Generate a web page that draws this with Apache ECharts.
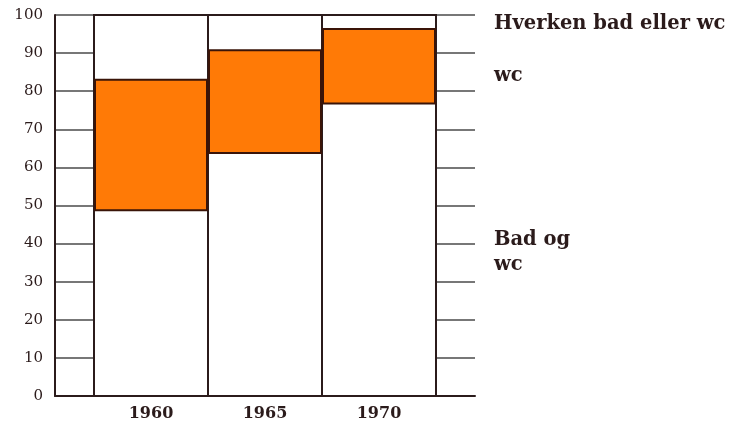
<!DOCTYPE html>
<html>
<head>
<meta charset="utf-8">
<script src="https://cdn.jsdelivr.net/npm/echarts@6/dist/echarts.min.js"></script>
<style>
  html, body { margin: 0; padding: 0; background: #fff; }
  #main { width: 730px; height: 426px; }
</style>
</head>
<body>
<div id="main"></div>
<script>
    // data (percent)
    var years = ['1960', '1965', '1970'];
    var badOgWc = [48.5, 63.5, 76.5];
    var wc = [34.8, 27.5, 20.1];
    var hverken = [16.7, 9.0, 3.4];
    var yTicks = [0, 10, 20, 30, 40, 50, 60, 70, 80, 90, 100];

    var ink = '#2b1b1b';
    var serif = '"DejaVu Serif", "Liberation Serif", serif';

    // label only on the last bar, placed to the right as a legend
    function withLabel(values, text, dy) {
        return values.map(function (v, i) {
            if (i !== values.length - 1) return v;
            return {
                value: v,
                label: {
                    show: true, position: 'right', distance: 58, offset: [0, dy],
                    formatter: text, color: ink, fontFamily: serif,
                    fontWeight: 'bold', fontSize: 19.5, lineHeight: 25
                }
            };
        });
    }

    var myChart = echarts.init(document.getElementById('main'));
    myChart.setOption({
        animation: false,
        grid: [
            { left: 55, right: 255, top: 15, bottom: 30 },   // gridlines + y axis
            { left: 94, right: 294, top: 15, bottom: 30 }    // bars
        ],
        xAxis: [
            {
                gridIndex: 0, type: 'value', min: 0, max: 1,
                axisLine: { show: true, onZero: false, lineStyle: { color: ink, width: 2 } },
                axisTick: { show: false }, axisLabel: { show: false }, splitLine: { show: false }
            },
            {
                gridIndex: 1, type: 'category', data: years,
                axisLine: { show: false }, axisTick: { show: false },
                axisLabel: { margin: 10, color: ink, fontFamily: serif, fontWeight: 'bold', fontSize: 16 }
            }
        ],
        yAxis: [
            {
                gridIndex: 0, type: 'value', min: 0, max: 100, interval: 10,
                axisLine: { show: true, lineStyle: { color: ink, width: 2 } },
                axisTick: { show: false },
                axisLabel: {
                    margin: 12, color: ink, fontFamily: serif, fontSize: 15,
                    formatter: function (v) { return yTicks.indexOf(v) >= 0 ? String(v) : ''; }
                },
                splitLine: { show: true, lineStyle: { color: '#4a4a4a', width: 1.5 } }
            },
            { gridIndex: 1, type: 'value', min: 0, max: 100, show: false }
        ],
        series: [
            {
                name: 'Bad og wc', type: 'bar', stack: 'a', xAxisIndex: 1, yAxisIndex: 1,
                barCategoryGap: 0,
                // white full-height background gives the outline of each column
                showBackground: true,
                backgroundStyle: { color: '#ffffff', borderColor: ink, borderWidth: 2 },
                itemStyle: { color: 'rgba(255,255,255,0)' },
                data: withLabel(badOgWc, 'Bad og\nwc', 2)
            },
            {
                name: 'wc', type: 'bar', stack: 'a', xAxisIndex: 1, yAxisIndex: 1,
                barCategoryGap: 0,
                itemStyle: { color: '#ff7a06', borderColor: '#3a1408', borderWidth: 2 },
                data: withLabel(wc, 'wc', 10)
            },
            {
                name: 'Hverken bad eller wc', type: 'bar', stack: 'a', xAxisIndex: 1, yAxisIndex: 1,
                barCategoryGap: 0,
                itemStyle: { color: 'rgba(255,255,255,0)' },
                data: withLabel(hverken, 'Hverken bad eller wc', 2)
            }
        ]
    });
</script>
</body>
</html>
